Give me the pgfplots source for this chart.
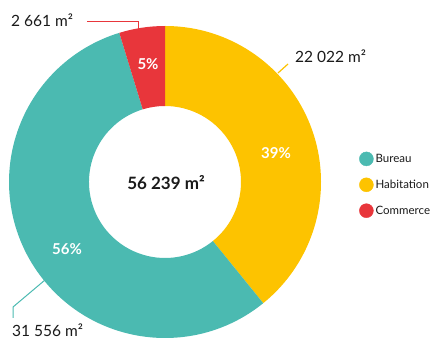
\documentclass[border=0pt]{standalone}
\usepackage{fontspec}
\setmainfont{Lato}
\usepackage{pgfplots}
\pgfplotsset{compat=1.18}
\usepackage{pgfplotstable}
\definecolor{cbur}{HTML}{4BBAB1}
\definecolor{chab}{HTML}{FDC300}
\definecolor{ccom}{HTML}{E8363B}
\definecolor{ctxt}{HTML}{1A1A1A}
\pgfplotstableread{
name value
Habitation 22022
Bureau 31556
Commerce 2661
}\datatable
\pgfplotstablegetelem{0}{value}\of\datatable \let\vh\pgfplotsretval
\pgfplotstablegetelem{1}{value}\of\datatable \let\vb\pgfplotsretval
\pgfplotstablegetelem{2}{value}\of\datatable \let\vc\pgfplotsretval
\edef\tot{\fpeval{\vh+\vb+\vc}}
\edef\aA{90}
\edef\aB{\fpeval{90-360*\vh/\tot}}
\edef\aC{\fpeval{\aB-360*\vb/\tot}}
\edef\aD{\fpeval{\aC-360*\vc/\tot}}
\def\Ro{156pt}
\def\Ri{76pt}
\newcommand\donutwedge[3]{%
  \fill[#1] (axis cs:165,158) ++(#2:\Ro) arc[start angle=#2, end angle=#3, radius=\Ro]
    -- ([shift={(#3:\Ri)}]axis cs:165,158) arc[start angle=#3, end angle=#2, radius=\Ri] -- cycle;}
\begin{document}
\begin{tikzpicture}
\begin{axis}[width=442pt,height=340pt,scale only axis,
  xmin=0,xmax=442,ymin=0,ymax=340,hide axis,clip=false,
  legend style={at={(axis cs:356,190.5)},anchor=north west,draw=none,fill=none,
    font=\fontsize{11.5}{13}\selectfont,row sep=11.5pt,cells={anchor=west},text=ctxt}]
\donutwedge{chab}{\aA}{\aB}
\donutwedge{cbur}{\aB}{\aC}
\donutwedge{ccom}{\aC}{\aD}
% leader lines
\draw[ccom,line width=1pt] (axis cs:87,318) -- (axis cs:138,318) -- (axis cs:138,310);
\draw[chab,line width=1.2pt] (axis cs:278,267) -- (axis cs:288,276);
\draw[cbur,line width=1pt] (axis cs:13,22) -- (axis cs:13,33) -- (axis cs:45,60);
% value labels
\node[anchor=base west,text=ctxt,font=\fontsize{15.5}{17}\selectfont,inner sep=0pt] at (axis cs:11,313) {2 661 m²};
\node[anchor=base west,text=ctxt,font=\fontsize{15.5}{17}\selectfont,inner sep=0pt] at (axis cs:295,277) {22 022 m²};
\node[anchor=base west,text=ctxt,font=\fontsize{15.5}{17}\selectfont,inner sep=0pt] at (axis cs:12,3) {31 556 m²};
\node[text=ctxt,font=\bfseries\fontsize{17}{19}\selectfont] at (axis cs:166,157) {56 239 m²};
% percentages
\node[text=white,font=\bfseries\fontsize{15}{17}\selectfont] at (axis cs:148,276) {5\%};
\node[text=white,font=\bfseries\fontsize{15}{17}\selectfont] at (axis cs:276,187) {39\%};
\node[text=white,font=\bfseries\fontsize{15}{17}\selectfont] at (axis cs:67,91) {56\%};
% legend
\addlegendimage{legend image code/.code={\fill[cbur] (0.3cm,0cm) circle (7pt);}}
\addlegendentry{Bureau}
\addlegendimage{legend image code/.code={\fill[chab] (0.3cm,0cm) circle (7pt);}}
\addlegendentry{Habitation}
\addlegendimage{legend image code/.code={\fill[ccom] (0.3cm,0cm) circle (7pt);}}
\addlegendentry{Commerce}
\end{axis}
\pgfresetboundingbox
\path[use as bounding box] (current axis.south west) rectangle (current axis.north east);
\end{tikzpicture}
\end{document}
